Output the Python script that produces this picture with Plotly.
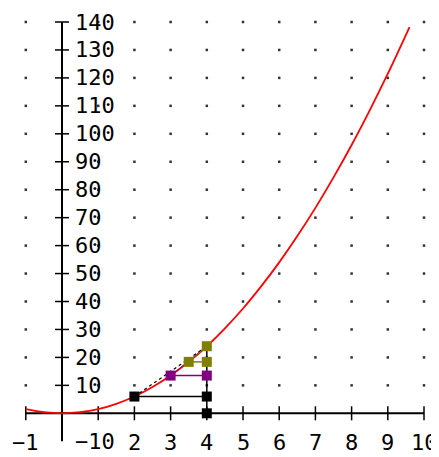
import plotly.graph_objects as go

# Curve samples
curve_x = [-1, -0.5, 0, 0.5, 1, 1.5, 2, 2.5, 3, 3.5, 4, 4.5, 5, 5.5, 6, 6.5, 7, 7.5, 8, 8.5, 9, 9.6]
curve_y = [1.5, 0.4, 0, 0.4, 1.5, 3.4, 6, 9.4, 13.5, 18.4, 24, 30.4, 37.5, 45.4, 54, 63.4, 73.5, 84.4, 96, 108.4, 121.5, 138.2]

# Secant construction points
black_x = [2, 4, 4]
black_y = [6, 6, 0]
purple_x = [3, 4]
purple_y = [13.5, 13.5]
olive_x = [3.5, 4, 4]
olive_y = [18.4, 18.4, 24]
target_x = 4
target_y = 24

x_ticks = [-1, 1, 2, 3, 4, 5, 6, 7, 8, 9, 10]
x_labels = ["−1", "2", "3", "4", "5", "6", "7", "8", "9", "10"]
x_label_vals = [-1, 2, 3, 4, 5, 6, 7, 8, 9, 10]
y_ticks = [10, 20, 30, 40, 50, 60, 70, 80, 90, 100, 110, 120, 130, 140]
y_label_vals = [-10] + y_ticks
y_labels = ["−10"] + [str(v) for v in y_ticks]
grid_x = [-1, 1, 2, 3, 4, 5, 6, 7, 8, 9, 10]
grid_y = y_ticks

fig = go.Figure()

# grid dots
gx, gy = [], []
for xv in grid_x:
    for yv in grid_y:
        gx.append(xv)
        gy.append(yv)
fig.add_trace(go.Scatter(x=gx, y=gy, mode="markers",
                         marker=dict(size=2.5, color="#333333", symbol="square"),
                         hoverinfo="skip"))

# axes
fig.add_trace(go.Scatter(x=[-1, 10], y=[0, 0], mode="lines",
                         line=dict(color="black", width=2), hoverinfo="skip"))
fig.add_trace(go.Scatter(x=[0, 0], y=[-10, 140], mode="lines",
                         line=dict(color="black", width=2), hoverinfo="skip"))
# ticks
fig.add_trace(go.Scatter(x=x_ticks, y=[0] * len(x_ticks), mode="markers",
                         marker=dict(symbol="line-ns", size=10, line=dict(color="black", width=1.5)),
                         hoverinfo="skip"))
fig.add_trace(go.Scatter(x=[0] * len(y_ticks), y=y_ticks, mode="markers",
                         marker=dict(symbol="line-ew", size=10, line=dict(color="black", width=1.5)),
                         hoverinfo="skip"))

# curve
fig.add_trace(go.Scatter(x=curve_x, y=curve_y, mode="lines", line_shape="spline",
                         line=dict(color="#ff0000", width=1.8), hoverinfo="skip"))

# secant lines
fig.add_trace(go.Scatter(x=[black_x[0], target_x], y=[black_y[0], target_y], mode="lines",
                         line=dict(color="black", width=1.2, dash="dot"), hoverinfo="skip"))
fig.add_trace(go.Scatter(x=[purple_x[0], target_x], y=[purple_y[0], target_y], mode="lines",
                         line=dict(color="#800080", width=1), hoverinfo="skip"))
fig.add_trace(go.Scatter(x=[olive_x[0], target_x], y=[olive_y[0], target_y], mode="lines",
                         line=dict(color="#808000", width=1), hoverinfo="skip"))

# horizontal legs
fig.add_trace(go.Scatter(x=black_x[:2], y=black_y[:2], mode="lines",
                         line=dict(color="black", width=1.5), hoverinfo="skip"))
fig.add_trace(go.Scatter(x=purple_x, y=purple_y, mode="lines",
                         line=dict(color="#800080", width=1.5), hoverinfo="skip"))
fig.add_trace(go.Scatter(x=olive_x[:2], y=olive_y[:2], mode="lines",
                         line=dict(color="#808000", width=1.5), hoverinfo="skip"))
# vertical leg
fig.add_trace(go.Scatter(x=[target_x, target_x], y=[0, target_y], mode="lines",
                         line=dict(color="black", width=1.5), hoverinfo="skip"))

# squares
fig.add_trace(go.Scatter(x=black_x, y=black_y, mode="markers",
                         marker=dict(symbol="square", size=10, color="black"), hoverinfo="skip"))
fig.add_trace(go.Scatter(x=purple_x, y=purple_y, mode="markers",
                         marker=dict(symbol="square", size=10, color="#800080"), hoverinfo="skip"))
fig.add_trace(go.Scatter(x=olive_x, y=olive_y, mode="markers",
                         marker=dict(symbol="square", size=10, color="#808000"), hoverinfo="skip"))

font = dict(family="DejaVu Sans Mono", size=22, color="black")
annotations = []
for v, t in zip(y_label_vals, y_labels):
    annotations.append(dict(x=0.3, y=v, text=t, showarrow=False, xanchor="left",
                            yanchor="middle", font=font))
for v, t in zip(x_label_vals, x_labels):
    annotations.append(dict(x=v, y=-10.3, text=t, showarrow=False, xanchor="center",
                            yanchor="middle", font=font))

# page body adds an 8px margin, so the figure is 431x449 and offset
fig.update_layout(
    width=431, height=449,
    margin=dict(l=0, r=0, t=0, b=0),
    paper_bgcolor="white", plot_bgcolor="white",
    showlegend=False,
    xaxis=dict(range=[-1.492, 10.414], visible=False, fixedrange=True),
    yaxis=dict(range=[-15.63, 145.01], visible=False, fixedrange=True),
    annotations=annotations,
)
fig.write_html("out.html")
